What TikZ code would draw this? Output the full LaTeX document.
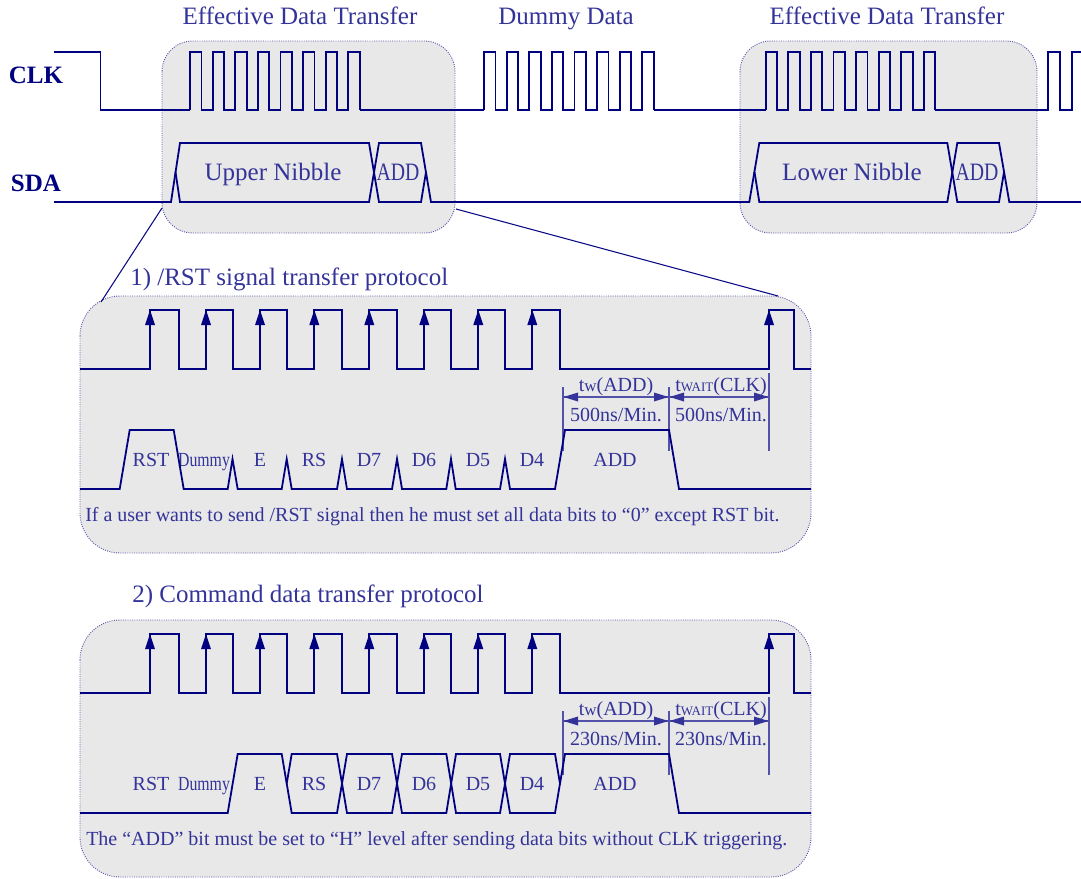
\documentclass[tikz,border=0pt]{standalone}
\usepackage{fontspec}
\setmainfont{Liberation Serif}
\newcommand{\fpx}[1]{\fontsize{\the\dimexpr #1pt*3/4\relax}{\the\dimexpr #1pt*9/10\relax}\selectfont}
\newcommand{\thinx}[1]{\scalebox{0.79}[1]{#1}}
\definecolor{wave}{HTML}{000080}
\definecolor{ink}{HTML}{333399}
\definecolor{panelfill}{HTML}{E8E8E8}
\definecolor{dotline}{HTML}{5555AA}
\tikzset{
  x=0.75pt,y=-0.75pt,
  topbox/.style={fill=panelfill,draw=dotline,line width=0.7pt,densely dotted,rounded corners=23pt},
  panelbox/.style={fill=panelfill,draw=dotline,line width=0.7pt,densely dotted,rounded corners=30pt},
  signal/.style={draw=wave,line width=1.35pt,line join=miter},
  dimline/.style={draw=ink!85,line width=1pt},
  zoomline/.style={draw=wave!80!ink,line width=0.8pt},
  bigtext/.style={text=ink,inner sep=0pt,anchor=base,font=\fpx{25}},
  bigleft/.style={text=ink,inner sep=0pt,anchor=base west,font=\fpx{25}},
  sigtext/.style={text=wave,inner sep=0pt,anchor=base,font=\fpx{25}\bfseries},
  smalltext/.style={text=ink,inner sep=0pt,anchor=base,font=\fpx{20}},
  notetext/.style={text=ink,inner sep=0pt,anchor=base west,font=\fpx{20}},
  dimtext/.style={text=ink,inner sep=0pt,anchor=base,font=\fpx{20}},
}
% eight CLK pulses of the overview; #1 = first rising edge
\newcommand{\burst}[1]{\draw[signal] (#1,110)
  \foreach \i in {0,...,7}{ -- ({#1+22.6*\i},110) -- ({#1+22.6*\i},52) -- ({#1+22.6*\i+11.4},52) -- ({#1+22.6*\i+11.4},110)};}
% arrow head on a rising CLK edge of a panel
\newcommand{\edgehead}[1]{\fill[wave] (#1,310) -- (#1+5,325) -- (#1-5,325) -- cycle;}
% the parts common to both panels
\newcommand{\panelclk}{%
  \draw[signal] (80,369) -- (150,369) -- (150,310) -- (179,310) -- (179,369)
    -- (206,369) -- (206,310) -- (232.7,310) -- (232.7,369)
    -- (260,369) -- (260,310) -- (286.7,310) -- (286.7,369)
    -- (314.3,369) -- (314.3,310) -- (342,310) -- (342,369)
    -- (369.3,369) -- (369.3,310) -- (396.7,310) -- (396.7,369)
    -- (424.3,369) -- (424.3,310) -- (451,310) -- (451,369)
    -- (478.3,369) -- (478.3,310) -- (505,310) -- (505,369)
    -- (532.3,369) -- (532.3,310) -- (560,310) -- (560,369)
    -- (769,369) -- (769,310) -- (794,310) -- (794,369) -- (811,369);
  \foreach \x in {150,206,260,314.3,369.3,424.3,478.3,532.3,769}{\edgehead{\x}}
  \draw[dimline] (563,387) -- (563,451);
  \draw[dimline] (669,387) -- (669,451);
  \draw[dimline] (769,373) -- (769,451);
  \draw[dimline] (563,397) -- (669,397);
  \draw[dimline] (669,397) -- (769,397);
  \fill[ink] (563.5,397) -- (578,392.5) -- (578,401.5) -- cycle;
  \fill[ink] (668.5,397) -- (654,392.5) -- (654,401.5) -- cycle;
  \fill[ink] (669.5,397) -- (684,392.5) -- (684,401.5) -- cycle;
  \fill[ink] (768.5,397) -- (754,392.5) -- (754,401.5) -- cycle;
  \node[smalltext] (rst) at (151,466) {RST};
  \node[smalltext] (dum) at (204,466) {\thinx{Dummy}};
  \node[smalltext] (e) at (260,466) {E};
  \node[smalltext] (rs) at (314,466) {RS};
  \node[smalltext] (d7) at (369,466) {D7};
  \node[smalltext] (d6) at (424,466) {D6};
  \node[smalltext] (d5) at (478,466) {D5};
  \node[smalltext] (d4) at (532,466) {D4};
  \node[smalltext] (add) at (615,466) {ADD};
  \node[dimtext] (tw) at (616,391.7) {t{\fpx{17}w}(ADD)};
  \node[dimtext] (twait) at (721,391.7) {t{\fpx{13}WAIT}(CLK)};
}
\begin{document}
\begin{tikzpicture}
\useasboundingbox (0,0) rectangle (1081,878);
% shaded boxes
\path[topbox] (162,41) rectangle (455,233);
\path[topbox] (740,41) rectangle (1037,233);
\path[panelbox] (80,296) rectangle (811,553);
\path[panelbox] (80,620) rectangle (811,877);
% zoom lines
\coordinate (zl1) at (162,208);
\coordinate (zl2) at (101,302);
\coordinate (zr1) at (456,209);
\coordinate (zr2) at (778,296);
\draw[zoomline] (zl1) -- (zl2);
\draw[zoomline] (zr1) -- (zr2);
% overview CLK
\draw[signal] (54,52) -- (100.5,52) -- (100.5,110) -- (190,110);
\burst{190}
\draw[signal] (359.6,110) -- (484,110);
\burst{484}
\draw[signal] (653.6,110) -- (765.7,110);
\burst{765.7}
\draw[signal] (935.3,110) -- (1048,110) -- (1048,52) -- (1060,52) -- (1060,110) -- (1071.6,110) -- (1071.6,52) -- (1081,52);
% overview SDA
\draw[signal] (54,202) -- (171,202) -- (180,143) -- (369,143) -- (379,202) -- (421,202) -- (426,172);
\draw[signal] (175.5,172) -- (180,202) -- (369,202) -- (379,143) -- (421,143) -- (431,202) -- (749.3,202) -- (759.3,143) -- (947.3,143) -- (957.3,202) -- (999,202) -- (1004,172);
\draw[signal] (754.5,172) -- (759.3,202) -- (947.3,202) -- (957.3,143) -- (999,143) -- (1009.3,202) -- (1081,202);
% overview texts
\node[bigtext] (t1) at (300,24) {Effective Data Transfer};
\node[bigtext] (t2) at (566,24) {Dummy Data};
\node[bigtext] (t3) at (887,24) {Effective Data Transfer};
\node[sigtext] (clk) at (36,83.3) {CLK};
\node[sigtext] (sda) at (36,191) {SDA};
\node[bigtext] (upper) at (273,180) {Upper Nibble};
\node[bigtext] (add1) at (398,180) {\thinx{ADD}};
\node[bigtext] (lower) at (852,180) {Lower Nibble};
\node[bigtext] (add2) at (977,180) {\thinx{ADD}};
\node[bigleft] (h1) at (130,285) {1) /RST signal transfer protocol};
\node[bigleft] (h2) at (132,602) {2) Command data transfer protocol};
% panel 1
\begin{scope}
\panelclk
\draw[signal] (80,489) -- (119.7,489) -- (129.7,430) -- (173.7,430) -- (183.7,489)
  -- (227.7,489) -- (232.5,459) -- (237.7,489) -- (281.7,489) -- (286.7,459) -- (291.7,489)
  -- (337,489) -- (342,459) -- (347,489) -- (392,489) -- (397,459) -- (402,489)
  -- (446.3,489) -- (451,459) -- (455.7,489) -- (500,489) -- (505,459) -- (510,489)
  -- (555,489) -- (565,430) -- (669,430) -- (679,489) -- (811,489);
\node[dimtext] (n11) at (616,421) {500ns/Min.};
\node[dimtext] (n12) at (721,421) {500ns/Min.};
\node[notetext] (note1) at (85,521) {If a user wants to send /RST signal then he must set all data bits to “0” except RST bit.};
\end{scope}
% panel 2
\begin{scope}[shift={(0,324)}]
\panelclk
\draw[signal] (80,489) -- (227.7,489) -- (237.7,430) -- (281.7,430) -- (291.7,489) -- (337,489) -- (347,430) -- (392,430) -- (402,489) -- (446.3,489) -- (456,430) -- (500,430) -- (510,489) -- (555,489) -- (565,430) -- (669,430) -- (679,489) -- (811,489);
\draw[signal] (286.7,459.5) -- (291.7,430) -- (337,430) -- (347,489) -- (392,489) -- (402,430) -- (446.3,430) -- (456,489) -- (500,489) -- (510,430) -- (555,430) -- (560,459.5);
\node[dimtext] (n21) at (616,421) {230ns/Min.};
\node[dimtext] (n22) at (721,421) {230ns/Min.};
\node[notetext] (note2) at (86,521) {The “ADD” bit must be set to “H” level after sending data bits without CLK triggering.};
\end{scope}
\end{tikzpicture}
\end{document}
